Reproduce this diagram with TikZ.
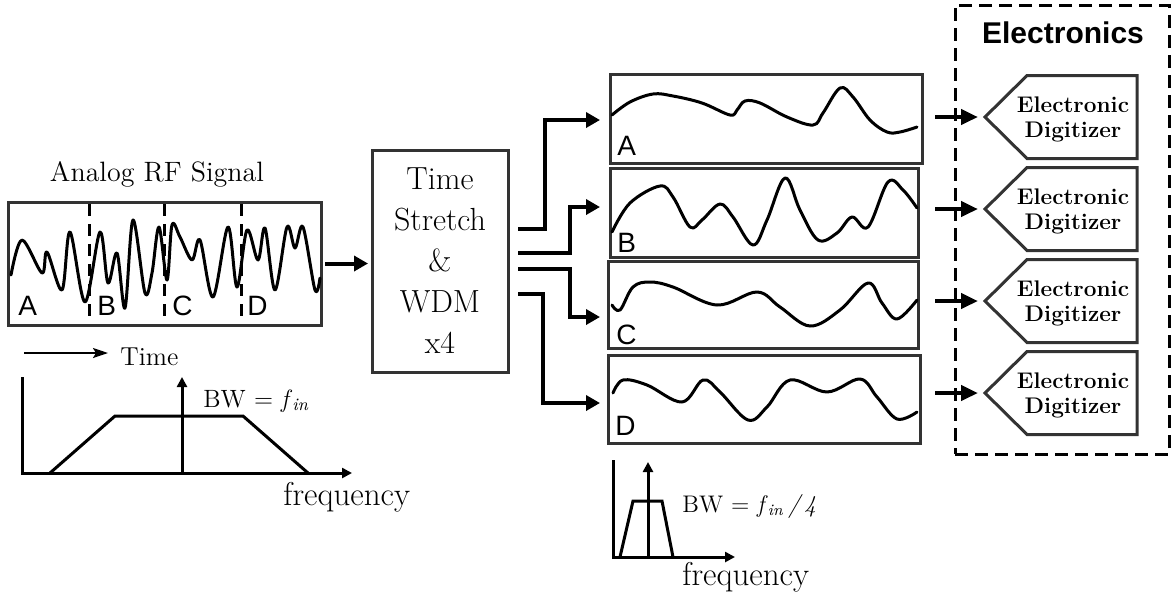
\documentclass[tikz,border=0pt]{standalone}
\usepackage{fontspec}
\newfontfamily\sansf{Liberation Sans}
\usetikzlibrary{arrows.meta,calc}
\begin{document}
\begin{tikzpicture}[x=0.5pt,y=-0.5pt,
  frame/.style={draw=black!80,line width=1.5pt,inner sep=0pt,outer sep=0pt},
  wave/.style={line width=1.5pt,line join=round,line cap=round},
  cut/.style={line width=1.5pt,dash pattern=on 6pt off 4pt},
  arr/.style={line width=2pt,-{Triangle[length=7pt,width=7.5pt]}},
  arrb/.style={line width=2.2pt,-{Triangle[length=8.5pt,width=7.5pt]}},
  axl/.style={line width=1.5pt},
  axarr/.style={line width=1.5pt,-{Triangle[length=5pt,width=5pt]}},
  lbl/.style={font=\sansf\fontsize{14pt}{16pt}\selectfont,inner sep=0pt,anchor=base west},
  txt/.style={inner sep=0pt,anchor=base west},
  dig/.style={inner sep=0pt,outer sep=0pt,minimum width=76pt,minimum height=41.5pt},
  digline/.style={draw=black!80,line width=1.5pt,line join=miter},
  digtext/.style={align=center,inner sep=0pt,font=\bfseries\fontsize{11.3pt}{12.5pt}\selectfont}
]
\useasboundingbox (0,0) rectangle (1172,596);

% ---------- input signal ----------
\node[font=\fontsize{14pt}{17pt}\selectfont,inner sep=0pt,anchor=base] (ttl) at (157,181) {Analog RF Signal};
\node[frame,minimum width=156.5pt,minimum height=61.5pt] (sig) at (164.5,263.5) {};
\draw[cut] (89,204) -- (89,323);
\draw[cut] (164,204) -- (164,323);
\draw[cut] (241,204) -- (241,323);
\draw[wave] plot[smooth,tension=0.55] coordinates {(11,275) (22,240) (42,273) (47,252) (62,290) (70,232) (85,302) (100,232) (108,283) (117,253) (125,308) (133,220) (145,293) (152,273) (159,227) (167,280) (172,225) (180,237) (192,260) (200,240) (213,297) (228,227) (237,287) (247,230) (258,260) (265,228) (275,290) (287,227) (295,248) (303,227) (315,290) (320,278)};
\node[lbl] (la) at (18,315) {A};
\node[lbl] (lb) at (97,315) {B};
\node[lbl] (lc) at (172,315) {C};
\node[lbl] (ld) at (247,315) {D};

\draw[line width=1pt,-{Stealth[length=7.5pt,width=5pt,inset=1.5pt]}] (24,353) -- (108,353);
\node[txt,font=\fontsize{13pt}{15pt}\selectfont] (tm) at (120,365) {Time};

% left spectrum
\draw[axarr] (22,377) -- (22,473) -- (352,473);
\draw[axl,line join=miter] (50,473) -- (115,416) -- (243,416) -- (308,473);
\draw[axarr] (182,473) -- (182,377);
\node[txt,font=\fontsize{12.5pt}{15pt}\selectfont] (bw1) at (203,407) {BW = \textit{f}\textsubscript{\textit{in}}};
\node[txt,font=\fontsize{16.5pt}{19pt}\selectfont] (fq1) at (283,505) {frequency};

% ---------- time stretch ----------
\node[frame,minimum width=68pt,minimum height=111pt,align=center,
  font=\fontsize{16pt}{20.5pt}\selectfont] (ts) at (440,261) {Time\\Stretch\\\&\\WDM\\x4};
\draw[arr,shorten <=2pt,shorten >=2pt] (sig.east) -- (ts.west |- sig.east);

% ---------- channel boxes ----------
\node[frame,minimum width=156pt,minimum height=44.5pt] (wA) at (766,118.5) {};
\node[frame,minimum width=154pt,minimum height=44.5pt] (wB) at (764,212.5) {};
\node[frame,minimum width=155pt,minimum height=43.5pt] (wC) at (763,304.5) {};
\node[frame,minimum width=156pt,minimum height=44pt] (wD) at (764,399) {};

\draw[wave] plot[smooth,tension=0.6] coordinates {(612,115) (630,102) (653,94) (673,96) (702,103) (730,115) (737,110) (745,101) (760,103) (787,117) (813,125) (823,113) (840,88) (853,97) (870,120) (887,132) (900,132) (917,127)};
\draw[wave] plot[smooth,tension=0.6] coordinates {(612,232) (630,203) (660,186) (673,197) (690,227) (702,220) (720,204) (733,217) (753,245) (767,220) (785,178) (800,210) (818,240) (837,233) (852,217) (868,227) (888,182) (903,190) (917,208)};
\draw[wave] plot[smooth,tension=0.6] coordinates {(612,305) (620,310) (633,287) (650,282) (673,287) (717,305) (757,292) (780,307) (810,326) (840,310) (868,283) (882,303) (897,319) (917,300)};
\draw[wave] plot[smooth,tension=0.6] coordinates {(613,393) (623,380) (647,385) (682,402) (703,380) (720,392) (748,420) (767,407) (790,380) (827,392) (860,379) (877,397) (897,419) (917,412)};

\node[lbl] (ca) at (617,155) {A};
\node[lbl] (cb) at (617,252) {B};
\node[lbl] (cc) at (616,344) {C};
\node[lbl] (cd) at (615,435) {D};

% branches
\coordinate (o1) at ($(ts.east)+(10,-32)$);
\coordinate (o2) at ($(ts.east)+(10,-8)$);
\coordinate (o3) at ($(ts.east)+(10,8)$);
\coordinate (o4) at ($(ts.east)+(10,33)$);
\draw[arr,shorten >=5pt] (o1) -- ++(27,0) |- ($(wA.west)+(0,1.5)$);
\draw[arr,shorten >=5pt] (o2) -- ++(52,0) |- ($(wB.west)+(0,-5.5)$);
\draw[arr,shorten >=4pt] (o3) -- ++(52,0) |- ($(wC.west)+(0,12.5)$);
\draw[arr,shorten >=4pt] (o4) -- ++(25,0) |- ($(wD.west)+(0,4)$);

% right spectrum
\draw[axarr] (613,460) -- (613,557) -- (735,557);
\draw[axl,line join=miter] (620,557) -- (633,501) -- (662,501) -- (673,557);
\draw[axarr] (648,557) -- (648,462);
\node[txt,font=\fontsize{12pt}{15pt}\selectfont] (bw2) at (682,512) {BW = \textit{f}\textsubscript{\textit{in}}\,\textit{/\,4}};
\node[txt,font=\fontsize{16.5pt}{19pt}\selectfont] (fq2) at (682,585) {frequency};

% ---------- electronics ----------
\node[draw,line width=1.5pt,dash pattern=on 6.5pt off 3.5pt,inner sep=0pt,
  minimum width=107pt,minimum height=224.5pt] (elec) at (1062,229.5) {};
\node[font=\sansf\bfseries\fontsize{15pt}{18pt}\selectfont,inner sep=0pt] (et) at (1063,33) {Electronics};

\foreach \n/\yy/\src/\sh in {1/117/wA/6.5pt,2/209/wB/8.5pt,3/301/wC/8.5pt,4/393/wD/7.5pt}{
  \node[dig] (d\n) at (1061,\yy) {};
  \draw[digline] (d\n.west) -- ($(d\n.north west)+(42,0)$) -- (d\n.north east) -- (d\n.south east) -- ($(d\n.south west)+(42,0)$) -- cycle;
  \node[digtext] (d\n t) at ($(d\n.center)+(12,2)$) {Electronic\\Digitizer};
  \draw[arrb,shorten <=\sh,shorten >=3.5pt] (\src.east |- d\n.west) -- (d\n.west);
}
\end{tikzpicture}
\end{document}
